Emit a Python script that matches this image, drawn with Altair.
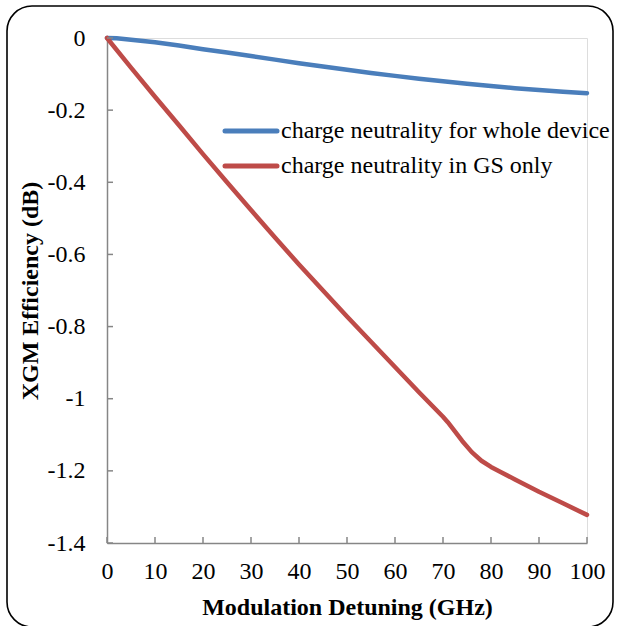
import altair as alt
import pandas as pd

# ---- data ----
x_blue = [0, 2, 5, 10, 15, 20, 25, 30, 35, 40, 45, 50, 55, 60, 65, 70, 75, 80, 85, 90, 95, 100]
y_blue = [0, -0.001, -0.005, -0.012, -0.021, -0.031, -0.040, -0.050, -0.060, -0.070, -0.079,
          -0.088, -0.097, -0.105, -0.113, -0.120, -0.127, -0.133, -0.139, -0.144, -0.149, -0.153]
x_red = [0, 5, 10, 15, 20, 25, 30, 35, 40, 45, 50, 55, 60, 65, 70, 71, 72, 74, 76, 78, 80, 82, 85, 90, 95, 100]
y_red = [0, -0.082, -0.163, -0.242, -0.322, -0.400, -0.477, -0.553, -0.628, -0.700, -0.772,
         -0.842, -0.912, -0.982, -1.050, -1.065, -1.082, -1.117, -1.148, -1.172, -1.189, -1.203,
         -1.224, -1.258, -1.290, -1.322]
series_names = ["charge neutrality for whole device", "charge neutrality in GS only"]
series_colors = ["#4A7EBB", "#BE4B48"]
x_ticks = [0, 10, 20, 30, 40, 50, 60, 70, 80, 90, 100]
y_ticks = [0, -0.2, -0.4, -0.6, -0.8, -1.0, -1.2, -1.4]

W, H = 480, 505
FONT = "Liberation Serif"
FS = 24
AX = "#868686"

df = pd.concat([
    pd.DataFrame({"x": x_blue, "y": y_blue, "s": series_names[0]}),
    pd.DataFrame({"x": x_red, "y": y_red, "s": series_names[1]}),
])

xs = alt.Scale(domain=[0, 100], nice=False, zero=False)
ys = alt.Scale(domain=[-1.4, 0], nice=False, zero=False)

lines = alt.Chart(df).mark_line(strokeWidth=4.5, strokeCap="round", strokeJoin="round").encode(
    x=alt.X("x:Q", scale=xs, axis=alt.Axis(
        title="Modulation Detuning (GHz)", values=x_ticks, ticks=False, grid=False,
        domainColor=AX, domainWidth=1.5, labelFont=FONT, labelFontSize=FS, labelColor="black",
        labelPadding=16, titleFont=FONT, titleFontSize=FS, titleFontWeight="bold", titleColor="black",
        titleX=W / 2, titleY=64, titleBaseline="middle", labelFlush=False)),
    y=alt.Y("y:Q", scale=ys, axis=alt.Axis(
        title="XGM Efficiency (dB)", values=y_ticks, ticks=False, grid=False,
        domainColor=AX, domainWidth=1.5, labelFont=FONT, labelFontSize=FS, labelColor="black",
        labelPadding=22, titleFont=FONT, titleFontSize=FS, titleFontWeight="bold", titleColor="black",
        titleX=-77, titleY=H / 2, titleBaseline="middle", labelFlush=False,
        labelExpr="datum.value < 0 ? '-' + format(-datum.value, '.1~f') : '0'")),
    color=alt.Color("s:N", scale=alt.Scale(domain=series_names, range=series_colors), legend=None),
    order=alt.Order("x:Q"),
)

xt = alt.Chart(pd.DataFrame({"t": x_ticks})).mark_rule(color=AX, strokeWidth=1.5).encode(
    x=alt.X("t:Q", scale=xs), y=alt.value(H), y2=alt.value(H - 6))
yt = alt.Chart(pd.DataFrame({"t": y_ticks})).mark_rule(color=AX, strokeWidth=1.5).encode(
    y=alt.Y("t:Q", scale=ys), x=alt.value(0), x2=alt.value(6))

leg_rows = []
for i, (nm, col) in enumerate(zip(series_names, series_colors)):
    ly = 131 - 38 + i * 35
    d = pd.DataFrame({"s": [nm]})
    leg_rows.append(alt.Chart(d).mark_rule(color=col, strokeWidth=5, strokeCap="round").encode(
        x=alt.value(225 - 107), x2=alt.value(277 - 107), y=alt.value(ly)))
    leg_rows.append(alt.Chart(d).mark_text(font=FONT, fontSize=FS, align="left", baseline="middle", color="black").encode(
        x=alt.value(281 - 107), y=alt.value(ly), text="s:N"))

border = alt.Chart(pd.DataFrame({"a": [0]})).mark_rect(
    fill=None, stroke="black", strokeWidth=1.6, cornerRadius=25, clip=False).encode(
    x=alt.value(7 - 107), x2=alt.value(613 - 107), y=alt.value(6 - 38), y2=alt.value(627 - 38))

chart = alt.layer(border, lines, xt, yt, *leg_rows).properties(
    width=W, height=H,
    autosize=alt.AutoSizeParams(type="none"),
    padding={"left": 107, "top": 38, "right": 618 - 107 - W, "bottom": 626 - 38 - H},
).configure_view(strokeWidth=0).configure(background="white")

chart.save("out.html", embed_options={"renderer": "svg", "actions": False})
